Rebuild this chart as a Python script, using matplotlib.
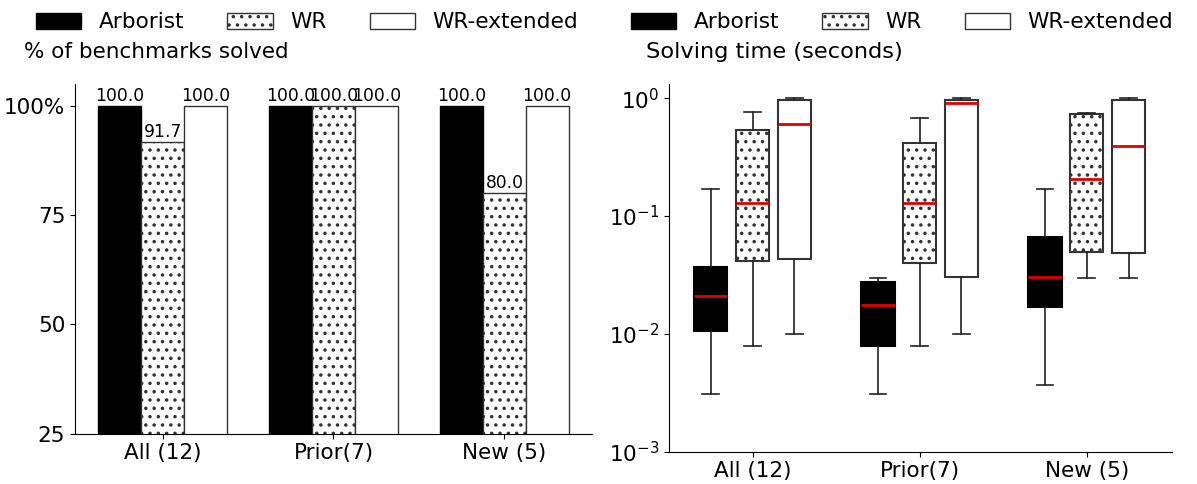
import matplotlib
matplotlib.use('Agg')
import matplotlib.pyplot as plt
import matplotlib.ticker as mticker
import numpy as np

categories = ['All (12)', 'Prior(7)', 'New (5)']
tools = ['Arborist', 'WR', 'WR-extended']

# % of benchmarks solved
solved_arborist = [100.0, 100.0, 100.0]
solved_wr = [91.7, 100.0, 80.0]
solved_wrext = [100.0, 100.0, 100.0]

# Solving time box statistics (seconds)
arb_whislo = [0.00305, 0.00305, 0.0037]
arb_q1 = [0.0106, 0.0078, 0.017]
arb_med = [0.0211, 0.0175, 0.0302]
arb_q3 = [0.0367, 0.0277, 0.066]
arb_whishi = [0.169, 0.0298, 0.169]

wr_whislo = [0.0079, 0.0079, 0.0298]
wr_q1 = [0.0416, 0.0397, 0.0492]
wr_med = [0.128, 0.128, 0.208]
wr_q3 = [0.535, 0.415, 0.741]
wr_whishi = [0.76, 0.676, 0.756]

wrx_whislo = [0.01, 0.01, 0.0298]
wrx_q1 = [0.043, 0.0302, 0.0486]
wrx_med = [0.605, 0.919, 0.396]
wrx_q3 = [0.968, 0.97, 0.96]
wrx_whishi = [1.0, 1.0, 1.0]

plt.rcParams['font.family'] = ['DejaVu Sans']
plt.rcParams['hatch.linewidth'] = 1.3

W, H = 1197, 484
fig = plt.figure(figsize=(W / 100, H / 100), dpi=100)

def fx(px):
    return px / W

def fy(py):
    return 1 - py / H

ax1 = fig.add_axes([fx(75), fy(433.5), fx(592) - fx(75), fy(83.5) - fy(433.5)])
ax2 = fig.add_axes([fx(669), fy(451.5), fx(1172) - fx(669), fy(84) - fy(451.5)])

x = np.arange(len(categories))
edge = '#333333'
styles = [
    dict(facecolor='black', edgecolor='black', hatch=None),
    dict(facecolor='white', edgecolor=edge, hatch='..'),
    dict(facecolor='white', edgecolor=edge, hatch=None),
]
offsets = [-0.25, 0.0, 0.25]

handles = []
for vals, st, off, name in zip([solved_arborist, solved_wr, solved_wrext], styles, offsets, tools):
    bars = ax1.bar(x + off, vals, width=0.25, label=name, linewidth=1.0, **st)
    ax1.bar_label(bars, fmt='%.1f', padding=1, fontsize=12.3)
    handles.append(bars)

ax1.set_ylim(25, 105.2)
ax1.set_yticks([25, 50, 75, 100])
ax1.set_yticklabels(['25', '50', '75', '100%'])
ax1.set_xticks(x)
ax1.set_xticklabels(categories)
ax1.tick_params(labelsize=15.5)
for s in ['top', 'right']:
    ax1.spines[s].set_visible(False)

# Box plot
groups = [
    (arb_whislo, arb_q1, arb_med, arb_q3, arb_whishi),
    (wr_whislo, wr_q1, wr_med, wr_q3, wr_whishi),
    (wrx_whislo, wrx_q1, wrx_med, wrx_q3, wrx_whishi),
]
for (wl, q1, med, q3, wh), st, off in zip(groups, styles, offsets):
    stats = []
    for i in range(len(categories)):
        stats.append(dict(whislo=wl[i], q1=q1[i], med=med[i], q3=q3[i],
                          whishi=wh[i], fliers=[]))
    ax2.bxp(stats, positions=x + off, widths=0.2, patch_artist=True,
            showfliers=False, manage_ticks=False,
            boxprops=dict(facecolor=st['facecolor'], edgecolor=st['edgecolor'],
                          hatch=st['hatch'], linewidth=1.5),
            medianprops=dict(color='#e00000', linewidth=2),
            whiskerprops=dict(color='#222222', linewidth=1.2),
            capprops=dict(color='#222222', linewidth=1.2))

ax2.set_yscale('log')
ax2.set_ylim(1e-3, 1.32)
ax2.set_xlim(-0.5, 2.51)
ax2.yaxis.set_major_locator(mticker.LogLocator(base=10, numticks=10))
ax2.yaxis.set_minor_locator(mticker.NullLocator())
ax2.set_xticks(x)
ax2.set_xticklabels(categories)
ax2.tick_params(labelsize=15.5)
for s in ['top', 'right']:
    ax2.spines[s].set_visible(False)

fig.text(fx(24), fy(58), '% of benchmarks solved', fontsize=15.5, va='baseline', ha='left')
fig.text(fx(646), fy(58), 'Solving time (seconds)', fontsize=16.2, va='baseline', ha='left')

leg_kw = dict(loc='center', ncol=3, frameon=False, fontsize=15.6, borderaxespad=0,
              handlelength=2.1, handleheight=0.8)
fig.legend(handles, tools, bbox_to_anchor=(fx(307), fy(22.5)), **leg_kw)
fig.legend(handles, tools, bbox_to_anchor=(fx(902), fy(22.5)), **leg_kw)

fig.savefig('out.png', dpi=100)
